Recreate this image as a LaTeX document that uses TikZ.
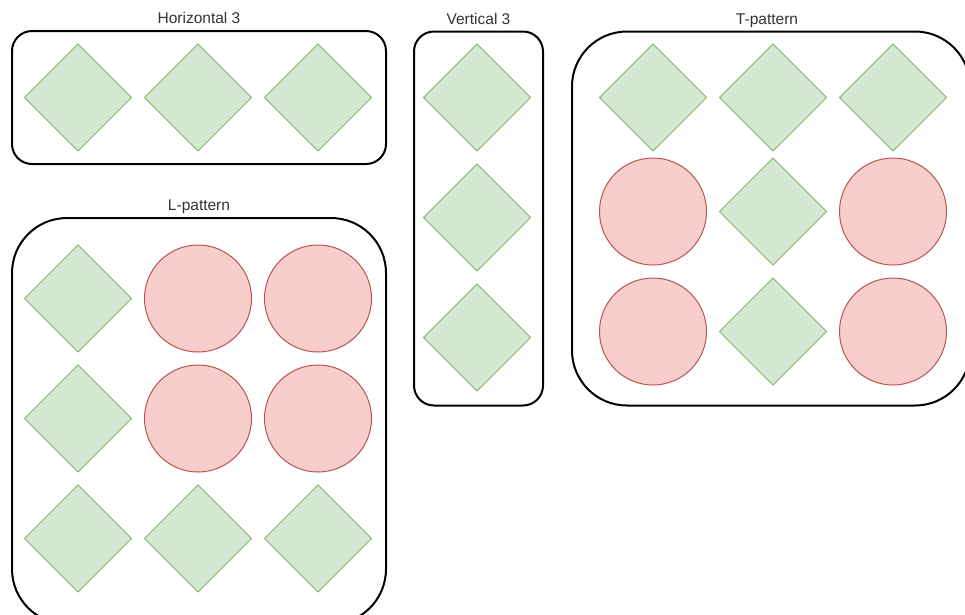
\documentclass[tikz,border=0pt]{standalone}
\usepackage{fontspec}
\setmainfont{Liberation Sans}
\usetikzlibrary{shapes.geometric, positioning}
\definecolor{gemfill}{HTML}{D5E8D4}
\definecolor{gemline}{HTML}{82B366}
\definecolor{blobfill}{HTML}{F8CECC}
\definecolor{blobline}{HTML}{B85450}

\begin{document}
\begin{tikzpicture}[x=1pt, y=-1pt, node distance=13pt,
    gem/.style={diamond, draw=gemline, fill=gemfill, line width=1pt, aspect=1, inner sep=0pt, outer sep=0pt, minimum width=107pt, minimum height=107pt},
    blob/.style={circle, draw=blobline, fill=blobfill, line width=1pt, inner sep=0pt, outer sep=0pt, minimum size=107pt},
    frame/.style={rectangle, draw, line width=2pt, inner sep=0pt, outer sep=0pt},
    caption/.style={font=\fontsize{15.5pt}{18pt}\selectfont, inner sep=0pt, text depth=0pt, text=black!80}]
    \useasboundingbox (0,0) rectangle (965,614);

    % Frames
    \node [frame, rounded corners=20pt, minimum width=374pt, minimum height=133pt] (hbox) at (199,97.5) {};
    \node [frame, rounded corners=20pt, minimum width=129pt, minimum height=374pt] (vbox) at (478.5,218.5) {};
    \node [frame, rounded corners=55pt, minimum width=398pt, minimum height=374pt] (tbox) at (771,218.5) {};
    \node [frame, rounded corners=55pt, minimum width=374pt, minimum height=406pt] (lbox) at (199,421) {};

    % Captions
    \node [caption, above=7pt of hbox] (hcap) {Horizontal 3};
    \node [caption, above=7pt of vbox] (vcap) {Vertical 3};
    \node [caption, above=7pt of tbox.north, xshift=-4pt] (tcap) {T-pattern};
    \node [caption, above=7pt of lbox] (lcap) {L-pattern};

    % Horizontal 3
    \node [gem] (h1) at (78,97.5) {};
    \node [gem, right=of h1] (h2) {};
    \node [gem, right=of h2] (h3) {};

    % Vertical 3
    \node [gem] (v1) at (477,97.5) {};
    \node [gem, below=of v1] (v2) {};
    \node [gem, below=of v2] (v3) {};

    % T-pattern
    \node [gem] (t11) at (653,97.5) {};
    \node [gem, right=of t11] (t12) {};
    \node [gem, right=of t12] (t13) {};
    \node [blob, below=7pt of t11] (t21) {};
    \node [gem, below=7pt of t12] (t22) {};
    \node [blob, below=7pt of t13] (t23) {};
    \node [blob, below=of t21] (t31) {};
    \node [gem, below=of t22] (t32) {};
    \node [blob, below=of t23] (t33) {};

    % L-pattern
    \node [gem] (l11) at (78,298.5) {};
    \node [blob, right=of l11] (l12) {};
    \node [blob, right=of l12] (l13) {};
    \node [gem, below=of l11] (l21) {};
    \node [blob, below=of l12] (l22) {};
    \node [blob, below=of l13] (l23) {};
    \node [gem, below=of l21] (l31) {};
    \node [gem, below=of l22] (l32) {};
    \node [gem, below=of l23] (l33) {};
\end{tikzpicture}
\end{document}
